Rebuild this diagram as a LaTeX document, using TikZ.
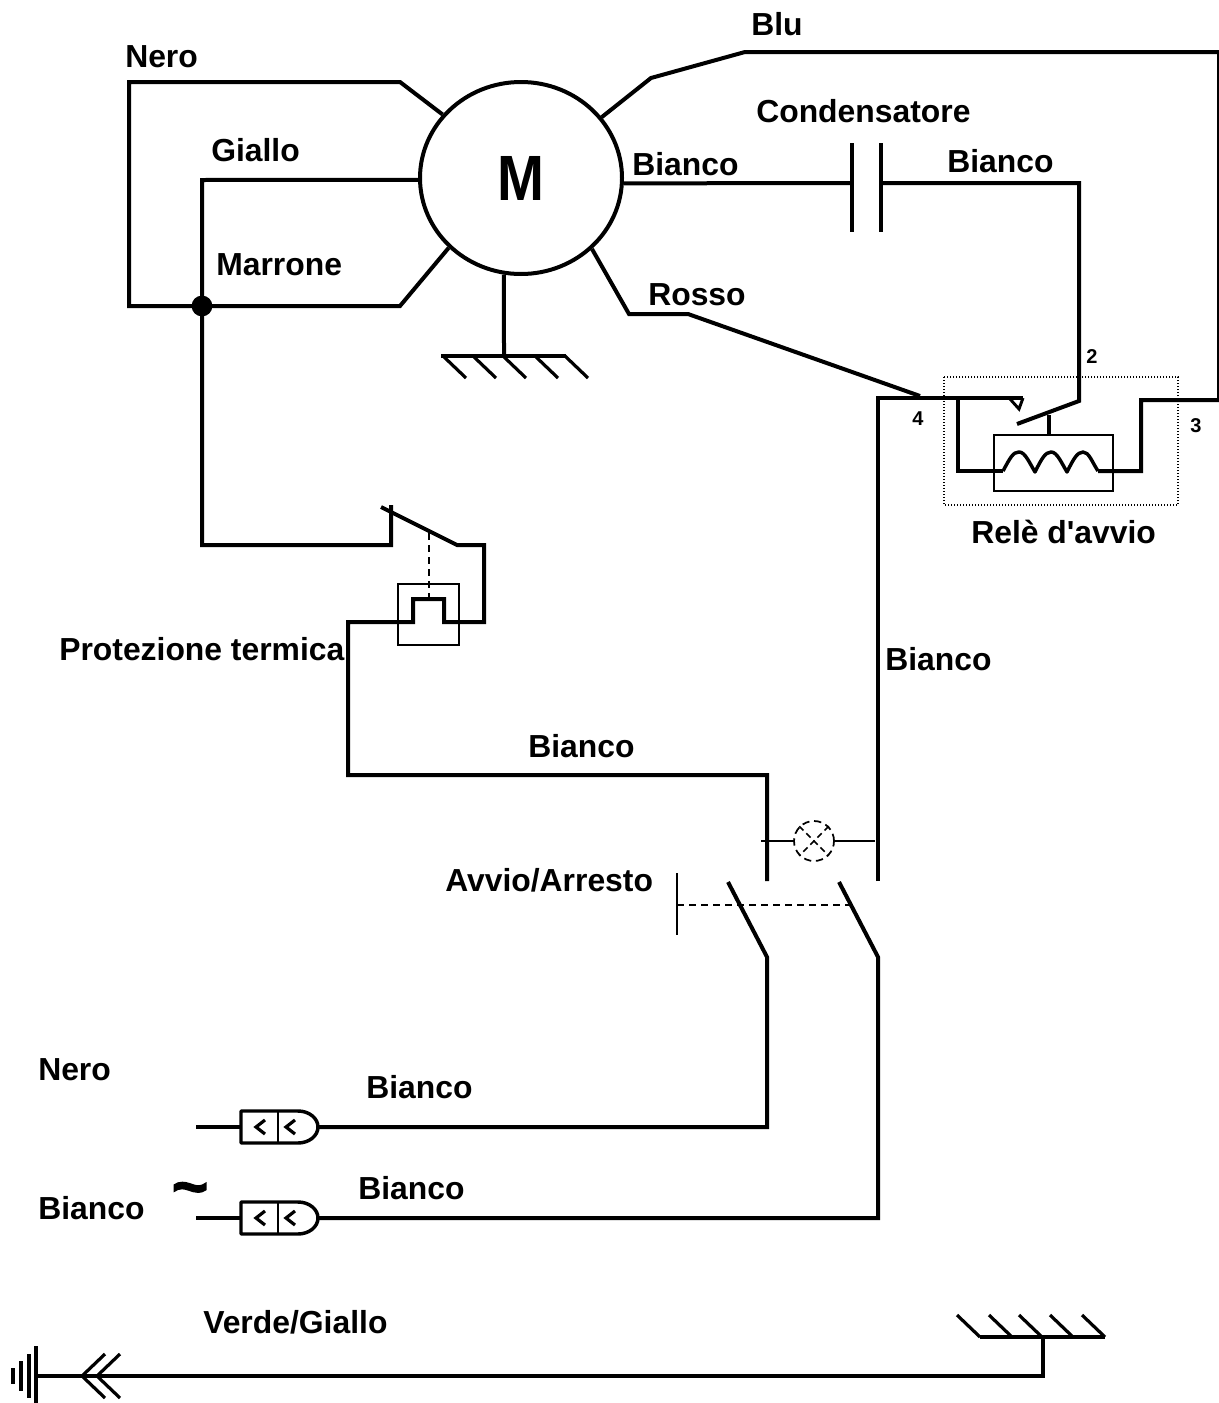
\documentclass[tikz,border=0pt]{standalone}
\usepackage{fontspec}
\usepackage{graphicx}
\setmainfont{Liberation Sans}
\newfontfamily\plainarial{Liberation Sans}
\newfontfamily\tildefont{Liberation Sans Bold}[FakeBold=2]
\usetikzlibrary{calc,shapes.geometric}
\tikzset{
  x=0.75pt,y=-0.75pt,
  wire/.style={line width=3pt,line join=miter},
  thinw/.style={line width=1.5pt},
  dashline/.style={line width=1.3pt,dash pattern=on 5.5pt off 3.5pt},
  lab/.style={inner sep=0pt,anchor=base west,font=\fontsize{23.9}{28}\selectfont\plainarial\bfseries},
  num/.style={inner sep=0pt,anchor=base west,font=\fontsize{15}{17}\selectfont\plainarial\bfseries},
}
\begin{document}
\begin{tikzpicture}
\useasboundingbox (0,0) rectangle (1219,1403);
% motor
\node[ellipse,draw,line width=3pt,minimum width=151.5pt,minimum height=144pt,inner sep=0pt,font=\fontsize{48}{52}\selectfont\plainarial\bfseries] (M) at (521,178) {\scalebox{0.88}[1]{M}};
% coordinates
\coordinate (neroA) at (400,82); \coordinate (neroB) at (129,82);
\coordinate (neroC) at (129,306); \coordinate (neroD) at (400,306);
\coordinate (gialA) at (202,180); \coordinate (dot) at (202,306);
\coordinate (thA) at (202,545); \coordinate (thB) at (391,545); \coordinate (thC) at (391,505);
\coordinate (armA) at (381,507); \coordinate (armB) at (457,545);
\coordinate (thD) at (484,545); \coordinate (thE) at (484,622);
\coordinate (htA) at (444,622); \coordinate (htB) at (444,599); \coordinate (htC) at (413,599);
\coordinate (htD) at (413,622); \coordinate (htE) at (348,622);
\coordinate (wA) at (348,775); \coordinate (wB) at (767,775); \coordinate (wC) at (767,881);
\coordinate (bluA) at (651,78); \coordinate (bluB) at (745,52); \coordinate (bluC) at (1219,52);
\coordinate (bluD) at (1219,400); \coordinate (bluE) at (1141,400); \coordinate (bluF) at (1141,471);
\coordinate (cL) at (1003,471); \coordinate (cR) at (1098,471);
\coordinate (relA) at (958,471); \coordinate (relB) at (958,398);
\coordinate (rosA) at (629,314); \coordinate (rosB) at (688,314); \coordinate (rosC) at (920,396);
\coordinate (p1) at (852,183); \coordinate (p2) at (881,183);
\coordinate (capA) at (1079,183); \coordinate (capB) at (1079,401);
\coordinate (armR) at (1017,424);
\coordinate (mainT) at (878,398); \coordinate (mainB) at (878,881);
\coordinate (cntT) at (1023,398); \coordinate (triA) at (1010,399); \coordinate (triB) at (1019,409);
\coordinate (stemT) at (1049,415); \coordinate (stemB) at (1049,435);
% wires to motor
\draw[wire] (M.141) -- (neroA) -- (neroB) -- (neroC) -- (neroD) -- (M.224.6);
\draw[wire] (M.181) -- (gialA) -- (thA) -- (thB) -- (thC);
\draw[wire] (armA) -- (armB) -- (thD) -- (thE) -- (htA) -- (htB) -- (htC) -- (htD) -- (htE) -- (wA) -- (wB) -- (wC);
\fill (dot) circle (7.8pt);
\draw[wire] (M.37.7) -- (bluA) -- (bluB) -- (bluC) -- (bluD) -- (bluE) -- (bluF) -- (cR);
\draw[wire] (M.315.8) -- (rosA) -- (rosB) -- (rosC);
\draw[wire] (M.357) -- (p1);
\draw[wire] (p2) -- (capA) -- (capB) -- (armR);
\draw[wire] (852,143) -- (852,232);
\draw[wire] (881,143) -- (881,232);
% motor ground
\coordinate (gMb) at (504,356);
\draw[wire] (M.260) -- (gMb);
\draw[wire] (441,356) -- (566,356);
\foreach \x in {443,473,503,535,565}{\draw[line width=2.4pt] (\x,356) -- (\x+23,378);}
% relay
\draw[line width=0.9pt,dash pattern=on 1pt off 1.25pt] (944,377) rectangle (1178,505);
\draw[thinw] (994,435) rectangle (1113,491);
\draw[wire] (mainB) -- (mainT) -- (cntT);
\draw[line width=2.2pt] (triA) -- (triB) -- (cntT);
\draw[wire] (relB) -- (relA) -- (cL);
\draw[line width=2.6pt,line join=round] (cL) .. controls (1010,458) and (1013,452) .. (1019,452)
  .. controls (1025,452) and (1029,462) .. (1035,472)
  .. controls (1041,460) and (1045,452) .. (1051,452)
  .. controls (1057,452) and (1061,462) .. (1067,472)
  .. controls (1073,460) and (1077,452) .. (1083,452)
  .. controls (1089,452) and (1092,462) .. (cR);
\draw[line width=2.4pt] (stemT) -- (stemB);
% thermal
\draw[thinw] (398,584) rectangle (459,645);
\draw[dashline] (429,533) -- (429,599);
% switch and lamp
\coordinate (sw1) at (767,957); \coordinate (sw2) at (878,957);
\coordinate (a1) at (728,882); \coordinate (a2) at (839,882);
\coordinate (lo1) at (767,1127); \coordinate (lo2) at (878,1218);
\coordinate (c1) at (318,1127); \coordinate (c2) at (318,1218);
\draw[wire] (a1) -- (sw1) -- (lo1) -- (c1);
\draw[wire] (a2) -- (sw2) -- (lo2) -- (c2);
\node[circle,draw,dashline,minimum size=30pt,inner sep=0pt] (L) at (814,841) {};
\draw[dashline,dash pattern=on 4.5pt off 3pt] (L.45) -- (L.225);
\draw[dashline,dash pattern=on 4.5pt off 3pt] (L.135) -- (L.315);
\coordinate (lL) at (761,841); \coordinate (lR) at (875,841);
\draw[thinw] (lL) -- (L.180);
\draw[thinw] (L.0) -- (lR);
\draw[thinw] (677,873) -- (677,935);
\draw[dashline] (677,905) -- (850,905);
% plugs
\foreach \y/\n in {1127/a,1218/b}{
  \coordinate (plugL\n) at (196,\y);
  \coordinate (plugB\n) at (241,\y);
  \draw[line width=2.4pt] (plugL\n) -- (plugB\n);
  \draw[line width=2.6pt,line join=round] (241,\y-16) -- (298,\y-16) arc (-90:90:20 and 16) -- (241,\y+16) -- cycle;
  \draw[thinw] (278,\y-16) -- (278,\y+16);
  \draw[line width=2.4pt] (265,\y-7) -- (256,\y) -- (265,\y+7);
  \draw[line width=2.4pt] (295,\y-7) -- (286,\y) -- (295,\y+7);
}
% earth
\coordinate (eR) at (1043,1376); \coordinate (eL) at (36,1376); \coordinate (eT) at (1043,1337);
\draw[wire] (eT) -- (eR) -- (eL);
\draw[wire] (980,1337) -- (1105,1337);
\foreach \x in {980,1012,1042,1073,1105}{\draw[line width=2.4pt] (\x,1337) -- (\x-23,1315);}
\draw[line width=2.4pt] (105,1354) -- (82,1376) -- (105,1398);
\draw[line width=2.4pt] (120,1354) -- (97,1376) -- (120,1398);
\draw[line width=3pt] (36,1346) -- (36,1403);
\draw[line width=3pt] (29,1354) -- (29,1398);
\draw[line width=3pt] (21,1361) -- (21,1391);
\draw[line width=3pt] (13,1368) -- (13,1384);
% labels
\node[lab] (t1) at (125,67) {Nero};
\node[lab] (t2) at (751,35) {Blu};
\node[lab] (t3) at (756,122) {Condensatore};
\node[lab] (t4) at (211,161) {Giallo};
\node[lab] (t5) at (632,175) {Bianco};
\node[lab] (t6) at (947,172) {Bianco};
\node[lab] (t7) at (216,275) {Marrone};
\node[lab] (t8) at (648,305) {Rosso};
\node[lab] (t9) at (971,543) {Relè d'avvio};
\node[lab] (t10) at (59,660) {Protezione termica};
\node[lab] (t11) at (885,670) {Bianco};
\node[lab] (t12) at (528,757) {Bianco};
\node[lab] (t13) at (445,891) {Avvio/Arresto};
\node[lab] (t14) at (38,1080) {Nero};
\node[lab] (t15) at (366,1098) {Bianco};
\node[lab] (t16) at (38,1219) {Bianco};
\node[lab] (t17) at (358,1199) {Bianco};
\node[lab] (t18) at (203,1333) {Verde/Giallo};
\node[num] (n2) at (1086,363) {2};
\node[num] (n4) at (912,425) {4};
\node[num] (n3) at (1190,432) {3};
\node[inner sep=0pt,anchor=base,font=\fontsize{47}{50}\selectfont\tildefont] (til) at (190,1208) {\char"007E};
\end{tikzpicture}
\end{document}
